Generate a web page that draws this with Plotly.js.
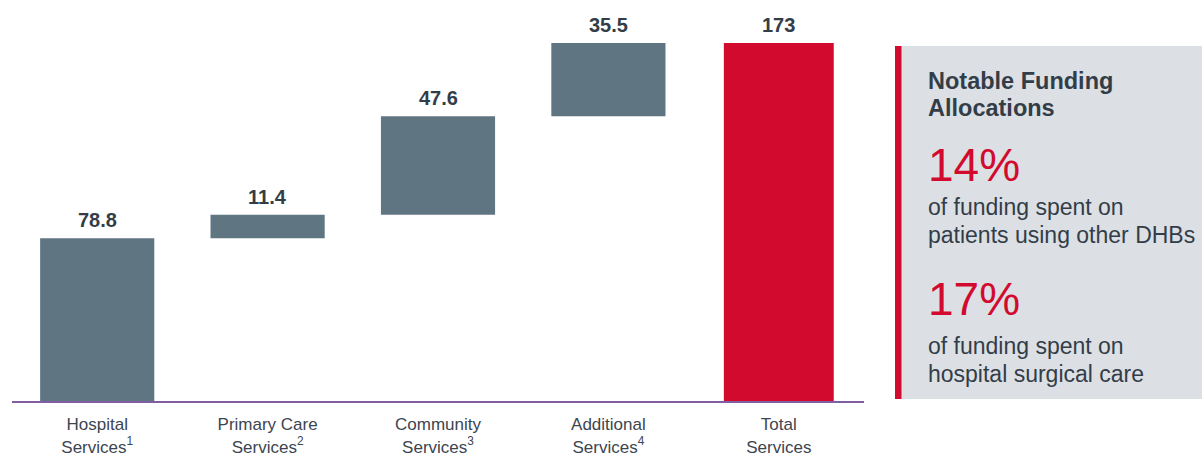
<!DOCTYPE html>
<html><head><meta charset="utf-8">
<script src="https://cdn.plot.ly/plotly-3.0.1.min.js"></script>
<style>html,body{margin:0;padding:0;background:#fff;}#chart{width:1202px;height:455px;}</style>
</head><body><div id="chart"></div>
<script>
const categories = ["Hospital<br>Services<sup>1</sup>", "Primary Care<br>Services<sup>2</sup>", "Community<br>Services<sup>3</sup>", "Additional<br>Services<sup>4</sup>", "Total<br>Services"];
const values = [78.8, 11.4, 47.6, 35.5, 0];
const measures = ["relative", "relative", "relative", "relative", "total"];
const valueLabels = ["78.8", "11.4", "47.6", "35.5", "173"];
const panelTitle = ["Notable Funding", "Allocations"];
const stat1 = "14%";
const stat1Text = ["of funding spent on", "patients using other DHBs"];
const stat2 = "17%";
const stat2Text = ["of funding spent on", "hospital surgical care"];

const FONT = "Liberation Sans, Arial, Helvetica, sans-serif";
const DARK = "#333d48";
const RED = "#d20a2e";

// plot area geometry in px: left 12, right 864, top 10, bottom 401
const L = 12, W = 852, T = 10, H = 391;
const px2x = px => (px - L) / W;
const px2y = py => (T + H - py) / H;

const trace = {
  type: "waterfall",
  x: categories,
  y: values,
  measure: measures,
  width: [0.67, 0.67, 0.67, 0.67, 0.645],
  connector: {visible: false},
  increasing: {marker: {color: "#607582"}},
  decreasing: {marker: {color: "#607582"}},
  totals: {marker: {color: RED}},
  cliponaxis: false,
  hoverinfo: "skip"
};

// tops of each bar, from the running total of the values
const tops = [];
let run = 0;
measures.forEach((m, i) => {
  if (m === "total") tops.push(run); else { run += values[i]; tops.push(run); }
});

const annotations = [];
categories.forEach((c, i) => {
  annotations.push({
    xref: "x", yref: "y", x: c, y: tops[i], xanchor: "center", yanchor: "bottom",
    yshift: 5, showarrow: false, text: valueLabels[i],
    font: {family: FONT, size: 20, color: DARK, weight: "bold"}
  });
});
function addText(txt, py, size, color, bold) {
  annotations.push({
    xref: "paper", yref: "paper", x: px2x(926), y: px2y(py),
    xanchor: "left", yanchor: "middle", showarrow: false,
    text: txt, align: "left",
    font: {family: FONT, size: size, color: color, weight: bold ? "bold" : "normal"}
  });
}
addText(panelTitle[0], 81, 23.5, DARK, true);
addText(panelTitle[1], 108, 23.5, DARK, true);
addText(stat1, 165, 46, RED, false);
addText(stat1Text[0], 207, 23, DARK, false);
addText(stat1Text[1], 235, 23, DARK, false);
addText(stat2, 299, 46, RED, false);
addText(stat2Text[0], 346, 23, DARK, false);
addText(stat2Text[1], 374, 23, DARK, false);

const layout = {
  width: 1202, height: 455,
  margin: {l: L, r: 1202 - L - W, t: T, b: 455 - T - H},
  paper_bgcolor: "#ffffff", plot_bgcolor: "rgba(0,0,0,0)",
  showlegend: false,
  waterfallgap: 0.33,
  font: {family: FONT, color: DARK},
  xaxis: {
    showline: true, linecolor: "#7f5fa1", linewidth: 2,
    showgrid: false, zeroline: false, ticks: "",
    tickfont: {family: FONT, size: 17, color: "#3c4550"},
    ticklabelstandoff: 7,
    fixedrange: true
  },
  yaxis: {visible: false, range: [0, 189.3], showgrid: false, zeroline: false, fixedrange: true},
  shapes: [
    {type: "rect", xref: "paper", yref: "paper", x0: px2x(901), x1: px2x(1203), y0: px2y(399), y1: px2y(46),
     fillcolor: "#dce0e4", line: {width: 0}, layer: "below"},
    {type: "rect", xref: "paper", yref: "paper", x0: px2x(895), x1: px2x(901.5), y0: px2y(399), y1: px2y(46),
     fillcolor: RED, line: {width: 0}, layer: "below"}
  ],
  annotations: annotations
};

Plotly.newPlot("chart", [trace], layout, {displayModeBar: false, staticPlot: true});
</script></body></html>
